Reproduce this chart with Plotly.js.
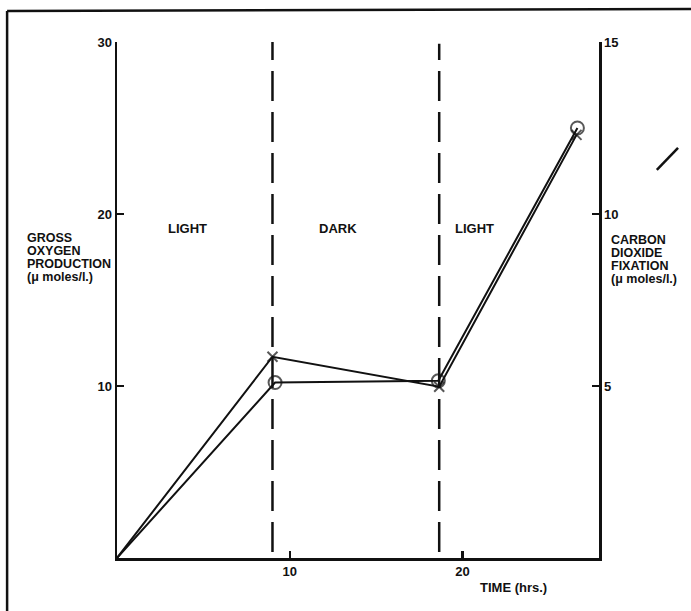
<!DOCTYPE html>
<html>
<head>
<meta charset="utf-8">
<script src="https://cdn.plot.ly/plotly-3.0.1.min.js"></script>
<style>html,body{margin:0;padding:0;background:#fff;}#chart{width:691px;height:611px;}</style>
</head>
<body>
<div id="chart"></div>
<script>
// Data
const oxygenTime = [0, 9.15, 18.6, 26.65];
const oxygenProduction = [0, 10.2, 10.3, 25.0];      // μmoles/l. (left axis)
const co2Time = [0, 9.0, 18.65, 26.6];
const co2Fixation = [0, 5.85, 4.98, 12.3];           // μmoles/l. (right axis)
const phaseBoundaries = [9.0, 18.65];
const phaseLabels = ["LIGHT", "DARK", "LIGHT"];
const phaseLabelX = [4.1, 12.8, 20.7];
const xTicks = [10, 20];
const yTicks = [10, 20, 30];
const y2Ticks = [5, 10, 15];
const leftTitleLines = ["GROSS", "OXYGEN", "PRODUCTION", "(\u03bc moles/l.)"];
const rightTitleLines = ["CARBON", "DIOXIDE", "FIXATION", "(\u03bc moles/l.)"];

const FONT = "Liberation Sans, Arial, sans-serif";
const ink = "#111";
// no marker drawn at the origin point (it sits on the axis corner)
const markerSizes = (arr, s) => arr.map((v, i) => (i === 0 ? 0 : s));

const traces = [
  {
    x: oxygenTime, y: oxygenProduction, type: "scatter", mode: "lines+markers",
    line: {color: ink, width: 2},
    marker: {symbol: "circle-open", size: markerSizes(oxygenTime, 13), color: ink, line: {width: 2, color: ink}},
    cliponaxis: false, showlegend: false, hoverinfo: "skip"
  },
  {
    x: co2Time, y: co2Fixation, type: "scatter", mode: "lines+markers", yaxis: "y2",
    line: {color: ink, width: 2},
    marker: {symbol: "x-thin-open", size: markerSizes(co2Time, 10), color: ink, line: {width: 2, color: ink}},
    cliponaxis: false, showlegend: false, hoverinfo: "skip"
  }
];

const shapes = [];
const dashTops = [30.3, 29.9];
phaseBoundaries.forEach((b, i) => {
  shapes.push({type: "line", xref: "x", yref: "y", x0: b, x1: b, y0: 0.35, y1: dashTops[i],
    line: {color: ink, width: 2.5, dash: "30px,11px"}});
});
// page border (scanned frame) and stray mark
shapes.push({type: "line", xref: "paper", yref: "paper", x0: -0.228, x1: 1.2, y0: 1.060, y1: 1.064, line: {color: ink, width: 2.5}});
shapes.push({type: "line", xref: "paper", yref: "paper", x0: -0.228, x1: -0.228, y0: 1.060, y1: -0.11, line: {color: ink, width: 2.5}});
shapes.push({type: "line", xref: "paper", yref: "paper", x0: 1.120, x1: 1.164, y0: 0.752, y1: 0.795, line: {color: ink, width: 2.5}});

const annotations = [];
phaseLabels.forEach((t, i) => {
  annotations.push({x: phaseLabelX[i], y: 19.15, xref: "x", yref: "y", text: t, showarrow: false,
    font: {family: FONT, size: 13, color: ink, weight: "bold"}});
});
const leftY = [238, 251, 264, 277];
leftTitleLines.forEach((t, i) => {
  annotations.push({x: (25 - 117) / 482, y: (558 - leftY[i]) / 516, xref: "paper", yref: "paper",
    xanchor: "left", yanchor: "middle", text: t, showarrow: false,
    font: {family: FONT, size: 12.5, color: ink, weight: "bold"}});
});
const rightY = [240, 253, 266, 279];
rightTitleLines.forEach((t, i) => {
  annotations.push({x: (609 - 117) / 482, y: (558 - rightY[i]) / 516, xref: "paper", yref: "paper",
    xanchor: "left", yanchor: "middle", text: t, showarrow: false,
    font: {family: FONT, size: 12.5, color: ink, weight: "bold"}});
});
annotations.push({x: (513 - 117) / 482, y: (558 - 587) / 516, xref: "paper", yref: "paper",
  xanchor: "center", yanchor: "middle", text: "TIME (hrs.)", showarrow: false,
  font: {family: FONT, size: 13, color: ink, weight: "bold"}});

const tickFont = {family: FONT, size: 13, color: ink, weight: "bold"};
const layout = {
  width: 691, height: 611,
  margin: {l: 117, r: 92, t: 42, b: 53, pad: 0},
  paper_bgcolor: "#fff", plot_bgcolor: "#fff",
  showlegend: false,
  xaxis: {
    range: [0, 27.9], tickvals: xTicks, ticktext: xTicks.map(String),
    ticks: "inside", ticklen: 7, tickwidth: 2.5, tickcolor: ink,
    showline: true, linewidth: 2.5, linecolor: ink, showgrid: false, zeroline: false,
    tickfont: tickFont, fixedrange: true
  },
  yaxis: {
    range: [0, 30], tickvals: yTicks, ticktext: yTicks.map(String),
    ticks: "inside", ticklen: 7, tickwidth: 2.5, tickcolor: ink,
    showline: true, linewidth: 2.5, linecolor: ink, showgrid: false, zeroline: false,
    tickfont: tickFont, fixedrange: true
  },
  yaxis2: {
    range: [0, 15], tickvals: y2Ticks, ticktext: y2Ticks.map(String),
    overlaying: "y", side: "right",
    ticks: "inside", ticklen: 7, tickwidth: 2.5, tickcolor: ink,
    showline: true, linewidth: 2.5, linecolor: ink, showgrid: false, zeroline: false,
    tickfont: tickFont, fixedrange: true
  },
  shapes: shapes,
  annotations: annotations
};

Plotly.newPlot("chart", traces, layout, {staticPlot: true, displayModeBar: false});
</script>
</body>
</html>
